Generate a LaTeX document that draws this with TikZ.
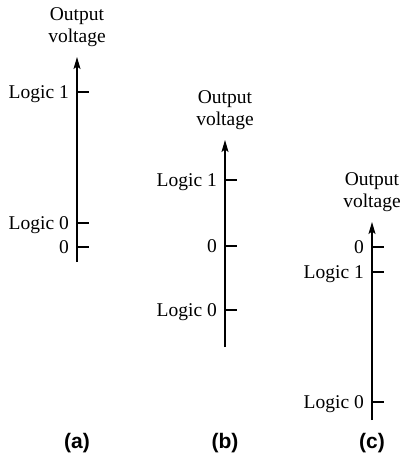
\documentclass[tikz,border=0pt]{standalone}
\usepackage{fontspec}
\setmainfont{Liberation Serif}
\newfontfamily\capfont{Liberation Sans}
\usetikzlibrary{arrows.meta}
\begin{document}
\begin{tikzpicture}[x=1pt,y=-1pt,
  axisline/.style={line width=1.2pt,-{Stealth[length=12pt,width=7pt,inset=2.5pt]}},
  tickline/.style={line width=1.1pt},
  lbl/.style={anchor=base east,inner sep=0pt,font=\fontsize{19.5}{22}\selectfont},
  ttl/.style={anchor=south,inner sep=0pt,align=center,font=\fontsize{19.5}{22.5}\selectfont},
  sublabel/.style={inner sep=0pt,font=\capfont\bfseries\fontsize{21}{24}\selectfont}]
\useasboundingbox (0,0) rectangle (403,466);
% (a)
\coordinate (aB) at (77,262);
\coordinate (aT) at (77,57);
\draw[axisline] (aB) -- (aT);
\node[ttl] (atitle) at (77,47) {Output\\voltage};
\coordinate (a1) at (77,92);
\coordinate (a0) at (77,223);
\coordinate (az) at (77,247);
\foreach \c in {a1,a0,az} \draw[tickline] (\c) -- ++(12,0);
\node[lbl] (la1) at ([shift={(-8,6.8)}]a1) {Logic 1};
\node[lbl] (la0) at ([shift={(-8,6.8)}]a0) {Logic 0};
\node[lbl] (laz) at ([shift={(-8,6.8)}]az) {0};
\node[sublabel] (capa) at (77,443) {(a)};
% (b)
\coordinate (bB) at (225,347);
\coordinate (bT) at (225,140);
\draw[axisline] (bB) -- (bT);
\node[ttl] (btitle) at (225,130) {Output\\voltage};
\coordinate (b1) at (225,180);
\coordinate (bz) at (225,246);
\coordinate (b0) at (225,310);
\foreach \c in {b1,bz,b0} \draw[tickline] (\c) -- ++(12,0);
\node[lbl] (lb1) at ([shift={(-8,6.8)}]b1) {Logic 1};
\node[lbl] (lbz) at ([shift={(-8,6.8)}]bz) {0};
\node[lbl] (lb0) at ([shift={(-8,6.8)}]b0) {Logic 0};
\node[sublabel] (capb) at (225,443) {(b)};
% (c)
\coordinate (cB) at (372,420);
\coordinate (cT) at (372,222);
\draw[axisline] (cB) -- (cT);
\node[ttl] (ctitle) at (372,212) {Output\\voltage};
\coordinate (cz) at (372,247);
\coordinate (c1) at (372,272);
\coordinate (c0) at (372,402);
\foreach \c in {cz,c1,c0} \draw[tickline] (\c) -- ++(12,0);
\node[lbl] (lcz) at ([shift={(-8,6.8)}]cz) {0};
\node[lbl] (lc1) at ([shift={(-8,6.8)}]c1) {Logic 1};
\node[lbl] (lc0) at ([shift={(-8,6.8)}]c0) {Logic 0};
\node[sublabel] (capc) at (372,443) {(c)};
\end{tikzpicture}
\end{document}
